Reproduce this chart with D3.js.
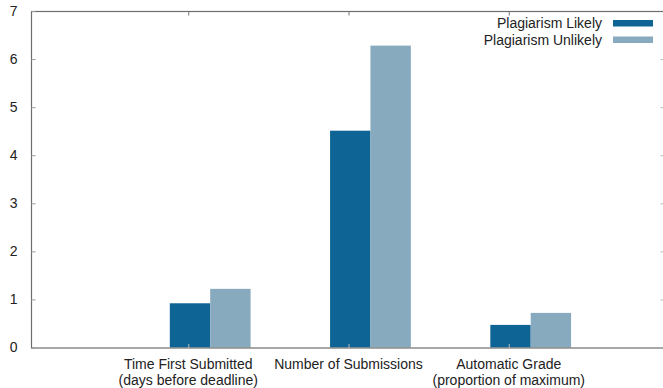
<!DOCTYPE html>
<html lang="en">
<head>
<meta charset="utf-8">
<title>Plagiarism histogram</title>
<script src="https://d3js.org/d3.v7.min.js"></script>
<style type="text/css">
body { margin: 0; background: #fff; }
text {
	font-family: "Liberation Sans", Arial, sans-serif;
	font-size: 14px;
	fill: #222;
}
</style>
</head>
<body>
<div id="chart"></div>
<script type="text/javascript">
// data
var categories = [
	["Time First Submitted", "(days before deadline)"],
	["Number of Submissions"],
	["Automatic Grade", "(proportion of maximum)"]
];
var seriesNames = ["Plagiarism Likely", "Plagiarism Unlikely"];
var likely = [0.92, 4.51, 0.47];
var unlikely = [1.22, 6.28, 0.72];
var yTicks = [0, 1, 2, 3, 4, 5, 6, 7];
var colors = ["#0e6495", "#87aabf"];

//Width and height
var w = 663;
var h = 388;
var padLeft = 31, padRight = 664, padTop = 11, padBottom = 347.5;

var svg = d3.select("#chart")
	.append("svg")
	.attr("width", w)
	.attr("height", h);

// category index -> pixel
var xScale = d3.scaleLinear()
	.domain([-1, 3])
	.range([28, 669]);

var yScale = d3.scaleLinear()
	.domain([0, 7])
	.range([padBottom, padTop]);

var series = [likely, unlikely];
var barW = 0.252;
var barStart = [-0.115, 0.137];

// bars
series.forEach(function (vals, s) {
	svg.append("g")
		.selectAll("rect")
		.data(vals)
		.enter()
		.append("rect")
		.attr("x", (d, i) => xScale(i + barStart[s]))
		.attr("width", (d, i) => xScale(i + barStart[s] + barW) - xScale(i + barStart[s]))
		.attr("y", d => yScale(d))
		.attr("height", d => yScale(0) - yScale(d))
		.attr("fill", colors[s]);
});

// frame
svg.append("rect")
	.attr("x", padLeft + 0.5)
	.attr("y", padTop + 0.5)
	.attr("width", padRight - padLeft)
	.attr("height", padBottom - padTop)
	.attr("fill", "none")
	.attr("stroke", "#6e6e6e")
	.attr("stroke-width", 1.2);

//Y axis (ticks inward, mirrored)
var yAxis = d3.axisLeft(yScale)
	.tickValues(yTicks)
	.tickSize(-4)
	.tickPadding(14)
	.tickFormat(d3.format("d"));

var gy = svg.append("g")
	.attr("transform", "translate(" + (padLeft + 0.5) + ",0)")
	.call(yAxis);
gy.select(".domain").remove();
gy.selectAll("line").attr("stroke", "#999");
gy.selectAll("text").style("font-size", "14px").attr("fill", "#222")
	.attr("font-family", null);

var gy2 = svg.append("g")
	.attr("transform", "translate(" + (padRight + 0.5) + ",0)")
	.call(d3.axisRight(yScale).tickValues(yTicks.slice(1, -1)).tickSize(-4).tickFormat(""));
gy2.select(".domain").remove();
gy2.selectAll("line").attr("stroke", "#bbb");

//X axis
var xAxis = d3.axisBottom(xScale)
	.tickValues(d3.range(categories.length))
	.tickSize(-4)
	.tickFormat("");

var gx = svg.append("g")
	.attr("transform", "translate(0," + (padBottom + 0.5) + ")")
	.call(xAxis);
gx.select(".domain").remove();
gx.selectAll("line").attr("stroke", "#bbb");

var gxTop = svg.append("g")
	.attr("transform", "translate(0," + (padTop + 0.5) + ")")
	.call(d3.axisTop(xScale).tickValues(d3.range(categories.length)).tickSize(-4).tickFormat(""));
gxTop.select(".domain").remove();
gxTop.selectAll("line").attr("stroke", "#777");

// category labels
var labels = svg.append("g")
	.selectAll("text")
	.data(categories)
	.enter()
	.append("text")
	.attr("x", (d, i) => xScale(i))
	.attr("y", 369)
	.style("text-anchor", "middle");
labels.selectAll("tspan")
	.data(d => d)
	.enter()
	.append("tspan")
	.attr("x", function () { return d3.select(this.parentNode).attr("x"); })
	.attr("dy", (d, i) => i === 0 ? 0 : 16)
	.text(d => d);

// legend
var legend = svg.append("g")
	.selectAll("g")
	.data(seriesNames)
	.enter()
	.append("g")
	.attr("transform", (d, i) => "translate(0," + (i * 16.5) + ")");
legend.append("text")
	.attr("x", 602)
	.attr("y", 28)
	.style("text-anchor", "end")
	.text(d => d);
legend.append("rect")
	.attr("x", 613)
	.attr("y", 20)
	.attr("width", 40)
	.attr("height", 6.5)
	.attr("fill", (d, i) => colors[i]);
</script>
</body>
</html>
